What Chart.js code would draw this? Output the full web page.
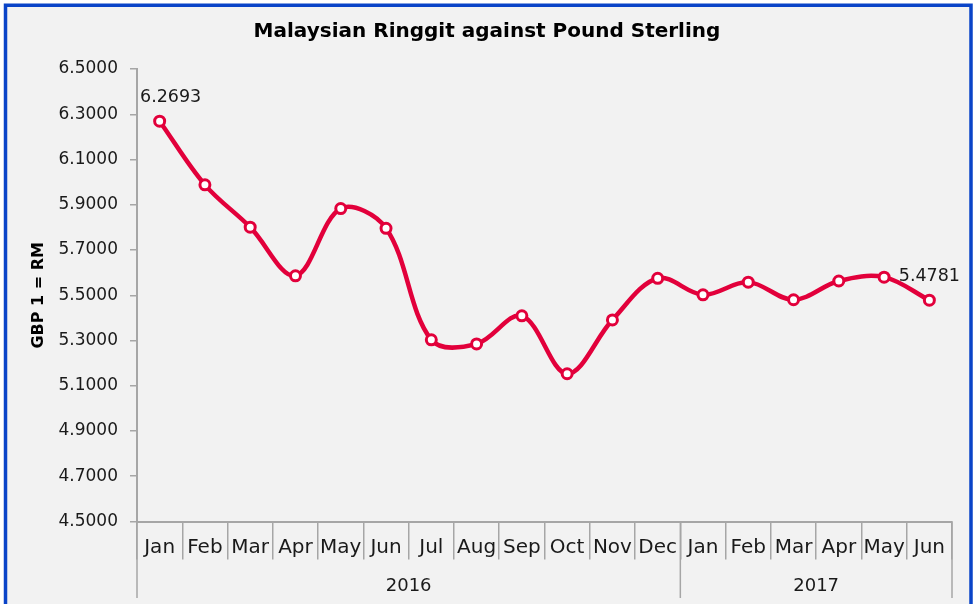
<!DOCTYPE html>
<html><head><meta charset="utf-8">
<script src="https://cdn.jsdelivr.net/npm/chart.js@4"></script>
<style>html,body{margin:0;padding:0;background:#fff;}#wrap{width:978px;height:604px;position:relative;}</style>
</head><body><div id="wrap"><canvas id="c" width="978" height="604"></canvas></div>
<script>
const chartTitle = 'Malaysian Ringgit against Pound Sterling';
const yAxisTitle = 'GBP 1 = RM';
const months = ['Jan','Feb','Mar','Apr','May','Jun','Jul','Aug','Sep','Oct','Nov','Dec','Jan','Feb','Mar','Apr','May','Jun'];
const years = ['2016','2017'];
const monthsPerYear = [12, 6];
const rates = [6.2693, 5.988, 5.801, 5.586, 5.883, 5.796, 5.303, 5.285, 5.409, 5.153, 5.391, 5.575, 5.502, 5.558, 5.480, 5.563, 5.580, 5.4781];
const labelledPoints = [0, 17];
const yMin = 4.5, yMax = 6.5, yStep = 0.2;

const FONT = "'DejaVu Sans', sans-serif";
const RED = '#e2003b';
const AXIS = '#a6a6a6';

const decorPlugin = {
  id: 'decor',
  beforeDraw(chart) {
    const ctx = chart.ctx;
    ctx.save();
    ctx.fillStyle = '#ffffff';
    ctx.fillRect(0, 0, chart.width, chart.height);
    ctx.fillStyle = '#f2f2f2';
    ctx.fillRect(5, 5, 966, chart.height);
    ctx.strokeStyle = '#0a44c8';
    ctx.lineWidth = 3.5;
    ctx.beginPath();
    ctx.moveTo(5.5, chart.height + 5);
    ctx.lineTo(5.5, 5.2);
    ctx.lineTo(971, 5.2);
    ctx.lineTo(971, chart.height + 5);
    ctx.stroke();
    ctx.restore();
  },
  afterDraw(chart) {
    const ctx = chart.ctx;
    const xs = chart.scales.x;
    ctx.save();
    ctx.fillStyle = '#000';
    ctx.font = "bold 20px " + FONT;
    ctx.textAlign = 'center';
    ctx.textBaseline = 'middle';
    ctx.fillText(chartTitle, 487, 32);
    const half = (xs.getPixelForValue(1) - xs.getPixelForValue(0)) / 2;
    const edge = k => xs.getPixelForValue(0) - half + k * 2 * half;
    let k = 0;
    const bounds = [0];
    monthsPerYear.forEach(n => { k += n; bounds.push(k); });
    ctx.strokeStyle = AXIS;
    ctx.lineWidth = 1.5;
    bounds.forEach(b => {
      const x = edge(b);
      ctx.beginPath();
      ctx.moveTo(x, xs.top);
      ctx.lineTo(x, 598);
      ctx.stroke();
    });
    ctx.fillStyle = '#1a1a1a';
    ctx.font = "18px " + FONT;
    years.forEach((y, i) => {
      ctx.fillText(y, (edge(bounds[i]) + edge(bounds[i + 1])) / 2, 586);
    });
    ctx.restore();
  },
  afterDatasetsDraw(chart) {
    const ctx = chart.ctx;
    const meta = chart.getDatasetMeta(0);
    ctx.save();
    ctx.fillStyle = '#1a1a1a';
    ctx.font = "17.5px " + FONT;
    ctx.textAlign = 'center';
    ctx.textBaseline = 'middle';
    labelledPoints.forEach(i => {
      const pt = meta.data[i];
      const txt = rates[i].toFixed(4);
      const w = ctx.measureText(txt).width;
      let cx = pt.x;
      if (cx - w / 2 < chart.chartArea.left + 3) cx = chart.chartArea.left + 3 + w / 2;
      if (cx + w / 2 > chart.width - 15) cx = chart.width - 15 - w / 2;
      ctx.fillText(txt, cx, pt.y - 24);
    });
    ctx.restore();
  }
};

new Chart(document.getElementById('c'), {
  type: 'line',
  data: {
    labels: months,
    datasets: [{
      data: rates,
      borderColor: RED,
      borderWidth: 4.5,
      tension: 0.35,
      pointRadius: 5,
      pointBorderWidth: 3,
      pointBackgroundColor: '#ffffff',
      pointBorderColor: RED,
      clip: false
    }]
  },
  options: {
    responsive: false,
    devicePixelRatio: 1,
    animation: false,
    layout: { padding: { top: 69, left: 0, right: 26, bottom: 0 } },
    plugins: { legend: { display: false }, tooltip: { enabled: false }, title: { display: false } },
    scales: {
      x: {
        offset: true,
        ticks: { font: { family: FONT, size: 20 }, color: '#1a1a1a', padding: -24, autoSkip: false, maxRotation: 0 },
        grid: { offset: true, drawOnChartArea: false, tickLength: 38, color: AXIS, lineWidth: 1.5 },
        border: { color: AXIS, width: 2 },
        afterFit: s => { s.height = 82.5; }
      },
      y: {
        min: yMin, max: yMax,
        ticks: { stepSize: yStep, callback: v => Number(v).toFixed(4), font: { family: FONT, size: 17 }, color: '#1a1a1a', padding: 12 },
        grid: { drawOnChartArea: false, tickLength: 7, color: AXIS, lineWidth: 1.5 },
        border: { color: AXIS, width: 2 },
        title: { display: true, text: yAxisTitle, font: { family: FONT, size: 16, weight: 'bold' }, color: '#000', padding: { top: 29.4, bottom: 0 } },
        afterFit: s => { s.width = 137; }
      }
    }
  },
  plugins: [decorPlugin]
});
</script></body></html>
